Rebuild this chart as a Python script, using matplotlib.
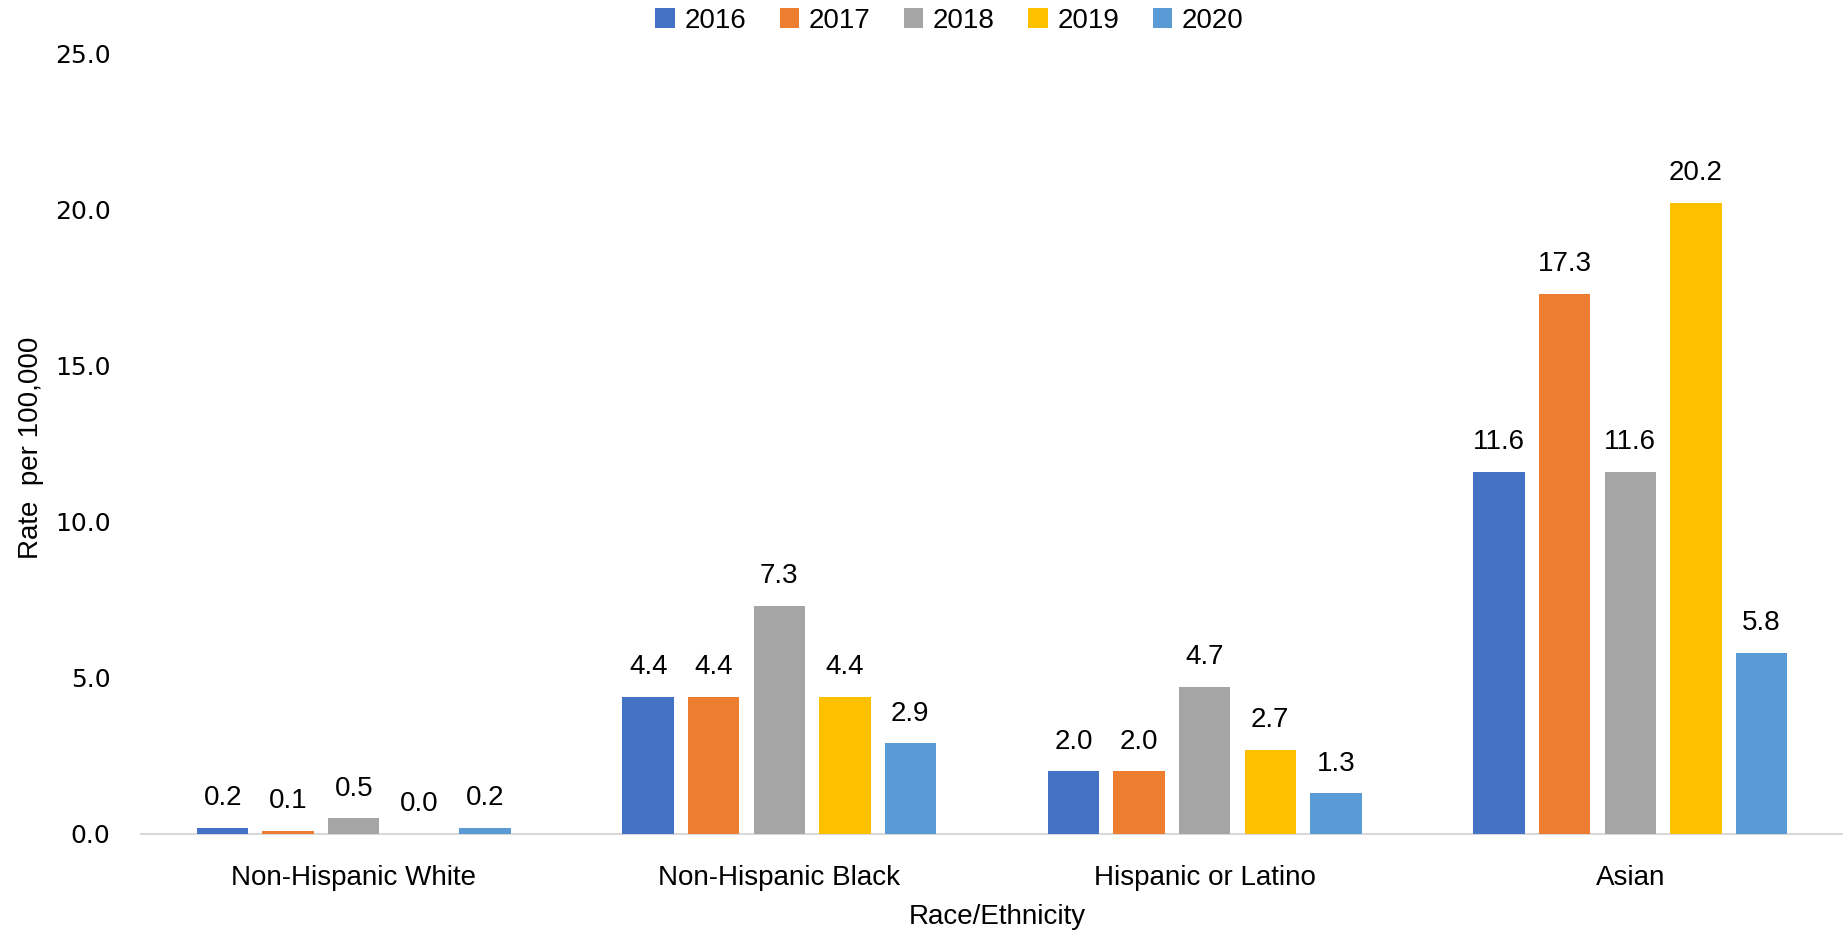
import matplotlib.pyplot as plt
import numpy as np

plt.rcParams['font.family'] = ['Liberation Sans', 'DejaVu Sans']

categories = ["Non-Hispanic White", "Non-Hispanic Black", "Hispanic or Latino", "Asian"]
years = ["2016", "2017", "2018", "2019", "2020"]
rate_2016 = [0.2, 4.4, 2.0, 11.6]
rate_2017 = [0.1, 4.4, 2.0, 17.3]
rate_2018 = [0.5, 7.3, 4.7, 11.6]
rate_2019 = [0.0, 4.4, 2.7, 20.2]
rate_2020 = [0.2, 2.9, 1.3, 5.8]
y_ticks = [0, 5, 10, 15, 20, 25]

series = [rate_2016, rate_2017, rate_2018, rate_2019, rate_2020]
colors = ['#4472C4', '#ED7D31', '#A5A5A5', '#FFC000', '#5B9BD5']

fig = plt.figure(figsize=(18.43, 9.32), dpi=100)
ax = fig.add_axes([0.0765, 0.1052, 0.9235, 0.8379])

x = np.arange(len(categories))
step = 0.154
width = 0.121
for i, (vals, yr, c) in enumerate(zip(series, years, colors)):
    pos = x + (i - 2) * step
    bars = ax.bar(pos, vals, width, color=c, label=yr, zorder=3)
    for b, v in zip(bars, vals):
        ax.annotate(f"{v:.1f}", (b.get_x() + b.get_width() / 2, v),
                    xytext=(0, 12), textcoords='offset points',
                    ha='center', va='bottom', fontsize=20)

ax.set_xlim(-0.5, 3.5)
ax.set_ylim(0, 25)
ax.set_yticks(y_ticks)
ax.set_yticklabels([f"{t:.1f}" for t in y_ticks], family='DejaVu Sans', fontsize=18)
ax.set_xticks(x)
ax.set_xticklabels(categories, fontsize=20)
ax.tick_params(axis='both', length=0)
ax.tick_params(axis='x', pad=22)
ax.tick_params(axis='y', pad=22)

for s in ['top', 'right', 'left']:
    ax.spines[s].set_visible(False)
ax.spines['bottom'].set_color('#D9D9D9')
ax.spines['bottom'].set_linewidth(1.5)

fig.text(0.541, 0.016, "Race/Ethnicity", ha='center', va='center', fontsize=20)
fig.text(0.017, 0.52, "Rate  per 100,000", ha='center', va='center', rotation=90, fontsize=20)

ax.legend(loc='upper center', bbox_to_anchor=(0.475, 1.09), ncol=5, frameon=False,
          fontsize=20, handlelength=0.7, handleheight=0.7, handletextpad=0.35,
          columnspacing=1.2)

fig.savefig("out.png", dpi=100)
